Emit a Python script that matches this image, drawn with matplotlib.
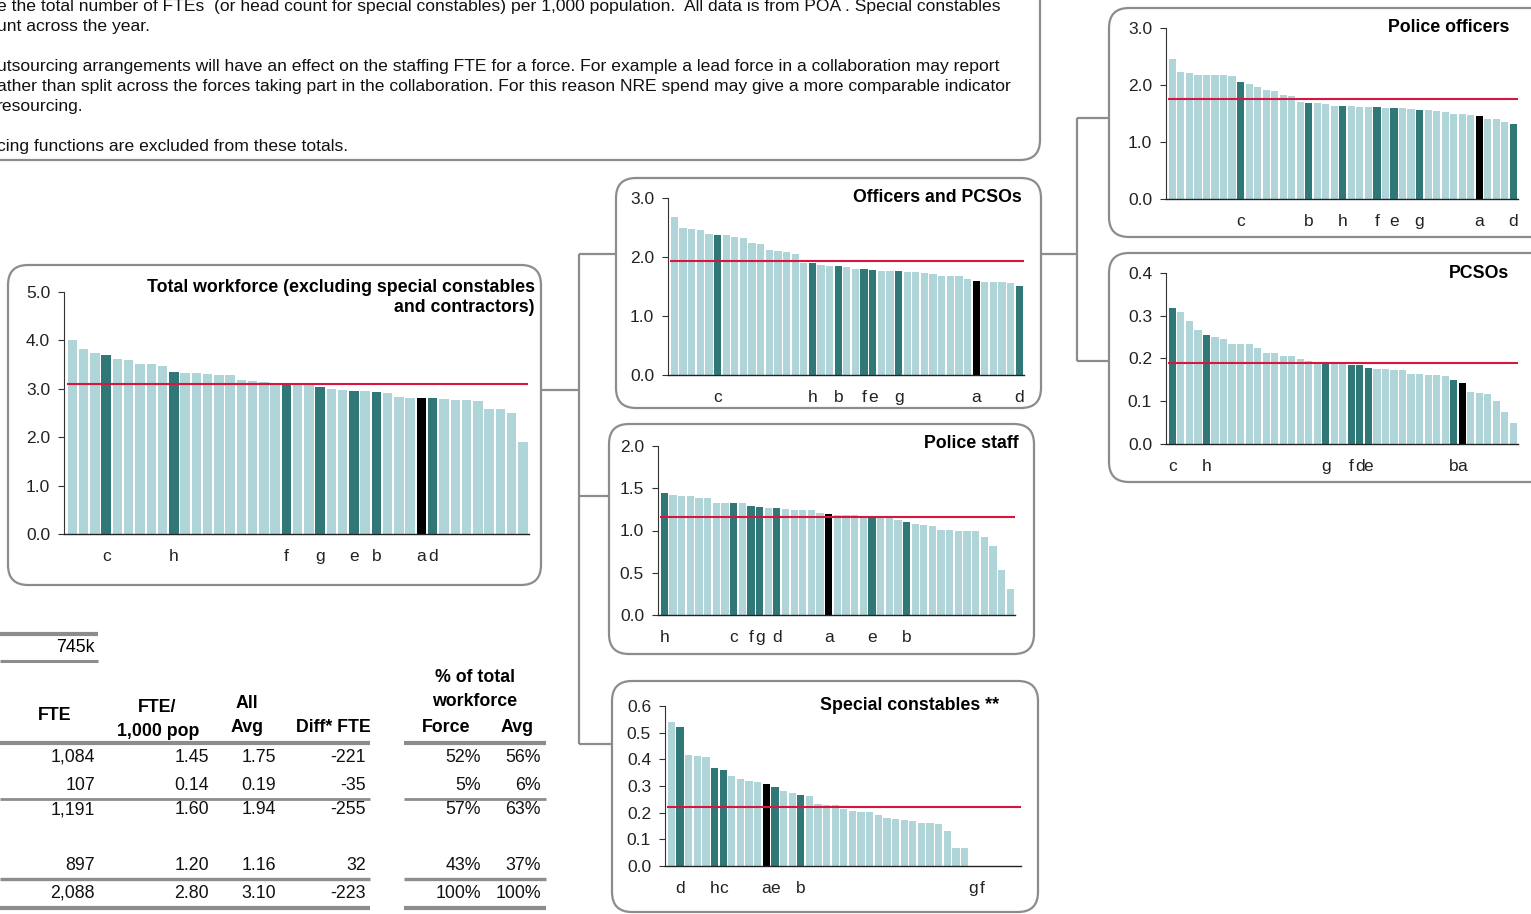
import numpy as np
import matplotlib.pyplot as plt
from matplotlib.patches import FancyBboxPatch

plt.rcParams['font.family'] = ['Liberation Sans', 'DejaVu Sans']

# --- data: values per 1,000 population, one bar per force (sorted) ---
tw_vals = [4.01, 3.82, 3.75, 3.70, 3.61, 3.59, 3.52, 3.52, 3.48, 3.34,
           3.33, 3.32, 3.31, 3.28, 3.28, 3.19, 3.16, 3.14, 3.11, 3.11,
           3.10, 3.07, 3.04, 3.00, 2.97, 2.96, 2.95, 2.94, 2.92, 2.83,
           2.82, 2.81, 2.80, 2.79, 2.77, 2.77, 2.74, 2.59, 2.59, 2.51, 1.90]
tw_forces = {'c': 4, 'h': 10, 'f': 20, 'g': 23, 'e': 26, 'b': 28, 'a': 32, 'd': 33}
tw_avg = 3.10

op_vals = [2.67, 2.49, 2.47, 2.46, 2.39, 2.37, 2.37, 2.34, 2.33, 2.23,
           2.22, 2.12, 2.10, 2.09, 2.05, 1.89, 1.89, 1.86, 1.85, 1.84,
           1.83, 1.80, 1.79, 1.78, 1.77, 1.76, 1.76, 1.75, 1.74, 1.73,
           1.71, 1.68, 1.68, 1.67, 1.62, 1.60, 1.58, 1.58, 1.57, 1.56, 1.51]
op_forces = {'c': 6, 'h': 17, 'b': 20, 'f': 23, 'e': 24, 'g': 27, 'a': 36, 'd': 41}
op_avg = 1.94

po_vals = [2.46, 2.22, 2.21, 2.18, 2.18, 2.18, 2.17, 2.15, 2.05, 2.01,
           1.97, 1.92, 1.89, 1.82, 1.80, 1.70, 1.69, 1.68, 1.66, 1.64,
           1.63, 1.63, 1.62, 1.62, 1.61, 1.60, 1.60, 1.59, 1.58, 1.56,
           1.56, 1.54, 1.52, 1.50, 1.49, 1.48, 1.46, 1.41, 1.40, 1.35, 1.32]
po_forces = {'c': 9, 'b': 17, 'h': 21, 'f': 25, 'e': 27, 'g': 30, 'a': 37, 'd': 41}
po_avg = 1.75

pcso_vals = [0.318, 0.308, 0.288, 0.267, 0.254, 0.251, 0.245, 0.235, 0.234, 0.233,
             0.225, 0.214, 0.213, 0.206, 0.205, 0.199, 0.195, 0.190, 0.189, 0.189,
             0.187, 0.185, 0.184, 0.177, 0.176, 0.175, 0.174, 0.174, 0.164, 0.163,
             0.162, 0.162, 0.158, 0.150, 0.143, 0.121, 0.120, 0.117, 0.101, 0.075, 0.049]
pcso_forces = {'c': 1, 'h': 5, 'g': 19, 'f': 22, 'd': 23, 'e': 24, 'b': 34, 'a': 35}
pcso_avg = 0.19

ps_vals = [1.445, 1.42, 1.41, 1.41, 1.39, 1.38, 1.33, 1.33, 1.32, 1.32,
           1.29, 1.28, 1.27, 1.27, 1.25, 1.24, 1.24, 1.24, 1.21, 1.20,
           1.18, 1.18, 1.18, 1.16, 1.16, 1.16, 1.15, 1.13, 1.10, 1.08,
           1.07, 1.05, 1.01, 1.01, 1.00, 0.99, 0.99, 0.92, 0.82, 0.53, 0.31]
ps_forces = {'h': 1, 'c': 9, 'f': 11, 'g': 12, 'd': 14, 'a': 20, 'e': 25, 'b': 29}
ps_avg = 1.16

sc_vals = [0.540, 0.522, 0.415, 0.413, 0.410, 0.368, 0.360, 0.336, 0.325, 0.320,
           0.316, 0.306, 0.298, 0.281, 0.272, 0.267, 0.261, 0.231, 0.229, 0.227,
           0.212, 0.206, 0.203, 0.202, 0.190, 0.179, 0.178, 0.174, 0.168, 0.160,
           0.160, 0.157, 0.133, 0.069, 0.066, 0.0, 0.0, 0.0, 0.0, 0.0, 0.0]
sc_forces = {'d': 2, 'h': 6, 'c': 7, 'a': 12, 'e': 13, 'b': 16, 'g': 36, 'f': 37}
sc_avg = 0.223

# --- table data ---
population = '745k'
tbl_fte = [1084, 107, 1191, 897, 2088]
tbl_per_pop = [1.45, 0.14, 1.60, 1.20, 2.80]
tbl_all_avg = [1.75, 0.19, 1.94, 1.16, 3.10]
tbl_diff = [-221, -35, -255, 32, -223]
tbl_pct_force = [52, 5, 57, 43, 100]
tbl_pct_avg = [56, 6, 63, 37, 100]

notes = [
    "e the total number of FTEs  (or head count for special constables) per 1,000 population.  All data is from POA . Special constables",
    "unt across the year.",
    "",
    "utsourcing arrangements will have an effect on the staffing FTE for a force. For example a lead force in a collaboration may report",
    "ather than split across the forces taking part in the collaboration. For this reason NRE spend may give a more comparable indicator",
    "resourcing.",
    "",
    "cing functions are excluded from these totals.",
]

LIGHT = '#afd5d8'
DARK = '#307878'
RED = '#d6163f'
GREY = '#8c8c8c'
FS = 12.8
TICK_FS = 12.5

W, H = 1531, 914
fig = plt.figure(figsize=(W / 100, H / 100), dpi=100)

bg = fig.add_axes([0, 0, 1, 1])
bg.set_xlim(0, W)
bg.set_ylim(H, 0)
bg.axis('off')


def box(x0, y0, x1, y1):
    bg.add_patch(FancyBboxPatch((x0, y0), x1 - x0, y1 - y0,
                                boxstyle='round,pad=0,rounding_size=20',
                                fc='none', ec=GREY, lw=1.6))


def line(x0, y0, x1, y1, lw=1.6):
    bg.plot([x0, x1], [y0, y1], color=GREY, lw=lw, solid_capstyle='butt')


def panel(x0, ytop, x1, ybot, vals, forces, avg, ymax, step, title, tx, ty):
    ax = fig.add_axes([x0 / W, 1 - ybot / H, (x1 - x0) / W, (ybot - ytop) / H])
    ax.set_facecolor('none')
    n = len(vals)
    x = np.arange(n)
    cols = [LIGHT] * n
    for k, i in forces.items():
        cols[i - 1] = 'black' if k == 'a' else DARK
    ax.bar(x, vals, width=0.84, color=cols, zorder=2)
    ax.hlines(avg, -0.5, n - 0.5, color=RED, lw=1.5, zorder=3)
    ax.set_xlim(-0.75, n - 0.45)
    ax.set_ylim(0, ymax)
    ticks = np.arange(0, ymax + step / 2, step)
    ax.set_yticks(ticks)
    ax.set_yticklabels([f'{t:.1f}' for t in ticks], fontsize=TICK_FS, color='#222222')
    ax.tick_params(axis='y', length=4, width=0.8, color='#333333', pad=6)
    ax.set_xticks([i - 1 for i in forces.values()])
    ax.set_xticklabels(list(forces.keys()), fontsize=TICK_FS, color='#222222')
    ax.tick_params(axis='x', length=0, pad=11)
    for s in ['top', 'right']:
        ax.spines[s].set_visible(False)
    ax.spines['left'].set_color('#333333')
    ax.spines['left'].set_linewidth(0.8)
    ax.spines['bottom'].set_color('#222222')
    ax.spines['bottom'].set_linewidth(1.0)
    for k, t in enumerate(title.split('\n')):
        bg.text(tx, ty + 20 * k, t, ha='right', va='center', fontsize=FS,
                fontweight='bold')
    return ax


# notes box
box(-40, -40, 1040, 160)
for k, t in enumerate(notes):
    bg.text(-3, 7 + 20 * k, t, ha='left', va='center', fontsize=12.6, color='#111111')

# panels
box(8, 265, 541, 585)
panel(64, 292, 529, 534, tw_vals, tw_forces, tw_avg, 5.0, 1.0,
      'Total workforce (excluding special constables\nand contractors)', 535, 287)

box(616, 178, 1041, 408)
panel(668, 198, 1024, 375, op_vals, op_forces, op_avg, 3.0, 1.0,
      'Officers and PCSOs', 1022, 197)

box(1109, 8, 1560, 237)
panel(1166, 28, 1518, 199, po_vals, po_forces, po_avg, 3.0, 1.0,
      'Police officers', 1509, 27)

box(1109, 253, 1560, 482)
panel(1166, 273, 1518, 444, pcso_vals, pcso_forces, pcso_avg, 0.4, 0.1,
      'PCSOs', 1509, 274)

box(609, 424, 1034, 654)
panel(658, 446, 1015, 615, ps_vals, ps_forces, ps_avg, 2.0, 0.5,
      'Police staff', 1019, 444)

box(612, 681, 1038, 912)
panel(665, 706, 1021, 866, sc_vals, sc_forces, sc_avg, 0.6, 0.1,
      'Special constables **', 999, 706)

# connectors
line(541, 390, 579, 390)
line(579, 254, 579, 744)
line(579, 254, 616, 254)
line(579, 496, 609, 496)
line(579, 744, 612, 744)
line(1041, 254, 1077, 254)
line(1077, 118, 1077, 361)
line(1077, 118, 1109, 118)
line(1077, 361, 1109, 361)

# table
line(0, 634, 98, 634, lw=3)
line(0, 661, 98, 661, lw=2.2)
bg.text(95, 648, population, ha='right', va='center', fontsize=FS)

hdr = dict(fontsize=FS, fontweight='bold', ha='center', va='center')
bg.text(55, 716, 'FTE', **hdr)
bg.text(157, 708, 'FTE/', **hdr)
bg.text(158, 732, '1,000 pop', **hdr)
bg.text(247, 704, 'All', **hdr)
bg.text(247, 728, 'Avg', **hdr)
bg.text(333, 728, 'Diff* FTE', **hdr)
bg.text(475, 678, '% of total', **hdr)
bg.text(475, 702, 'workforce', **hdr)
bg.text(446, 728, 'Force', **hdr)
bg.text(517, 728, 'Avg', **hdr)

for y, lw in [(743, 3), (799, 2), (879, 2.4), (908, 3)]:
    line(0, y, 370, y, lw=lw)
    line(404, y, 546, y, lw=lw)

row_y = [757, 786, 810, 865, 893]
cell = dict(fontsize=FS, ha='right', va='center', color='#111111')
for k, y in enumerate(row_y):
    bg.text(95, y, f'{tbl_fte[k]:,}', **cell)
    bg.text(209, y, f'{tbl_per_pop[k]:.2f}', **cell)
    bg.text(276, y, f'{tbl_all_avg[k]:.2f}', **cell)
    bg.text(366, y, f'{tbl_diff[k]}', **cell)
    bg.text(481, y, f'{tbl_pct_force[k]}%', **cell)
    bg.text(541, y, f'{tbl_pct_avg[k]}%', **cell)

fig.savefig('out.png', dpi=100)
